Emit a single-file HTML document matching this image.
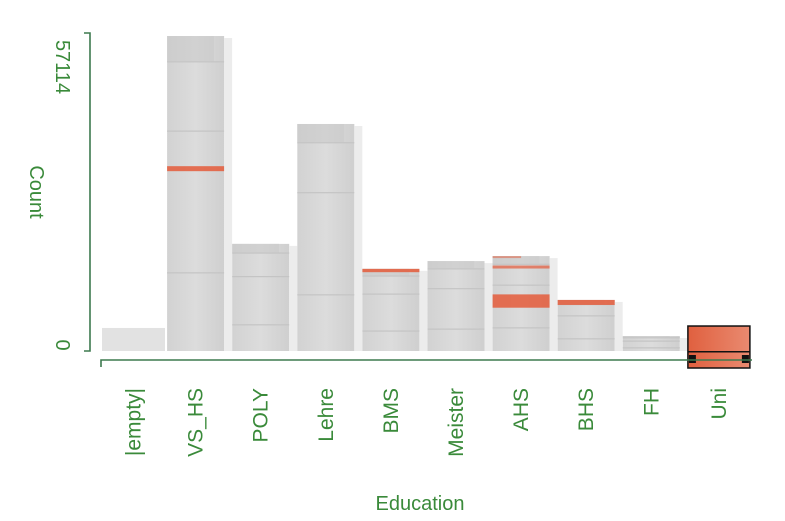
<!DOCTYPE html>
<html><head><meta charset="utf-8"><style>
html,body{margin:0;padding:0;background:#fff;}
svg{display:block;font-family:"Liberation Sans",sans-serif;}
</style></head><body>
<svg id="chart" width="785" height="521" viewBox="0 0 785 521">
<defs>
<linearGradient id="gbar" x1="0" x2="1" y1="0" y2="0">
<stop offset="0" stop-color="#d2d2d2"/><stop offset="0.5" stop-color="#dcdcdc"/><stop offset="1" stop-color="#cfcfcf"/>
</linearGradient>
<linearGradient id="rbar" x1="0" x2="1"><stop offset="0" stop-color="#e0603f"/><stop offset="1" stop-color="#e98a70"/></linearGradient>
</defs>
<rect width="785" height="521" fill="#fff"/>
<g id="bars"></g>
<g id="axes" stroke="#3d7a4f" stroke-width="1.6" fill="none">
<path d="M84 33 H90 V351 H84"/>
<path d="M101 367 V360 H752"/>
</g>
<g fill="#3a8a3a" font-size="20">
<text transform="translate(56,67) rotate(90)" text-anchor="middle">57114</text>
<text transform="translate(56,345) rotate(90)" text-anchor="middle">0</text>
<text transform="translate(30,192) rotate(90)" text-anchor="middle">Count</text>
<text x="420" y="510" text-anchor="middle">Education</text>
</g>
<g id="xlabels" fill="#3a8a3a" font-size="21"></g>
</svg>
<script>
const categories = ["|empty|","VS_HS","POLY","Lehre","BMS","Meister","AHS","BHS","FH","Uni"];
const counts = [4150,56750,19300,40900,14800,16200,17100,9200,2700,4500];
const highlightLow = [0,32400,0,0,14200,0,7800,8300,0,0];
const highlightHigh = [0,33300,0,0,14800,0,10200,9200,0,4500];
const extraHigh = [0,0,0,0,0,0,14600,0,0,0];
const extraHighTop = [0,0,0,0,0,0,15400,0,0,0];
const yMax = 57114;
const NS="http://www.w3.org/2000/svg";
const y0=351, yTop=34;
function yScale(v){return y0-(v/yMax)*(y0-yTop);}
function xLeft(i){return 102+i*65.1;}
const barW=57;
const g=document.getElementById('bars');
const xl=document.getElementById('xlabels');
function rect(x,y,w,h,fill,op){const r=document.createElementNS(NS,'rect');r.setAttribute('x',x);r.setAttribute('y',y);r.setAttribute('width',w);r.setAttribute('height',Math.max(0,h));r.setAttribute('fill',fill);if(op)r.setAttribute('opacity',op);g.appendChild(r);return r;}
categories.forEach((c,i)=>{
  const x=xLeft(i), top=yScale(counts[i]), h=y0-top;
  const isUni=c==="Uni";
  const isEmpty=i===0;
  const w=isEmpty?63:(isUni?62:barW);
  const b=rect(x,top,w,isUni?h+17:h,isUni?'url(#rbar)':(isEmpty?'#e2e2e2':'url(#gbar)'));
  
  
  if(!isEmpty&&!isUni){
    rect(x+w,top+2,8,h-2,'#ececec');
    [0.08,0.3,0.75].forEach(f=>{rect(x,top+h*f,w,1.2,'#c4c4c4');});
    rect(x,top,w*0.82,h*0.08,'#cacaca',0.6);
  }
  if(highlightHigh[i]>0&&!isUni){
    const hy=yScale(highlightHigh[i]), hl=yScale(highlightLow[i]);
    const hr=rect(x,hy,w,Math.max(3,hl-hy),'#e45a3a',0.85);
    
    
  }
  if(extraHigh[i]>0){
    const hy=yScale(extraHighTop[i]);
    rect(x,hy,w,3,'#e45a3a',0.7);
    rect(x,yScale(counts[i]),w*0.5,2,'#e45a3a',0.5);
  }
  if(isUni){
    const sel=document.createElementNS(NS,'rect');
    sel.setAttribute('x',x);sel.setAttribute('y',top);sel.setAttribute('width',w);sel.setAttribute('height',368-top);
    sel.setAttribute('fill','none');sel.setAttribute('stroke','#111');sel.setAttribute('stroke-width','1.5');
    
    
    g.appendChild(sel);
    rect(x,y0,w,1.5,'#111');
    rect(x+1,355,7,8,'#111');
    rect(x+w-8,355,7,8,'#111');
  }
  const t=document.createElementNS(NS,'text');
  t.setAttribute('transform','translate('+(x+w/2+7)+',388) rotate(-90)');
  t.setAttribute('text-anchor','end');
  t.textContent=c;
  
  
  xl.appendChild(t);
});
</script>
</body></html>
